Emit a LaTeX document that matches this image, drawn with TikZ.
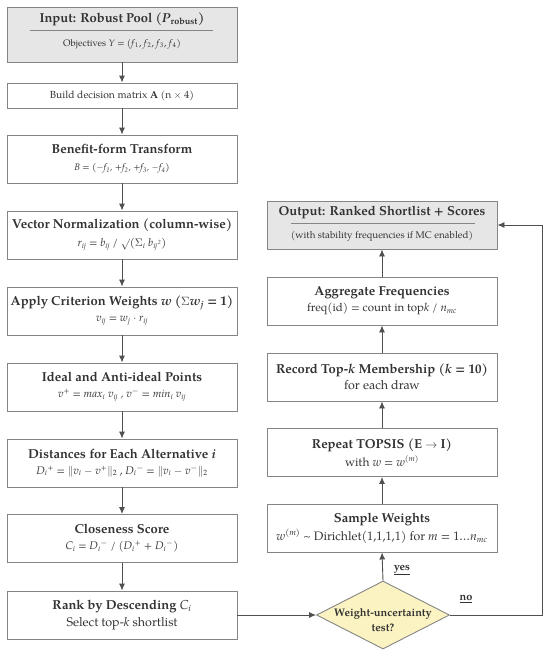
\documentclass[tikz,border=0pt]{standalone}
\usepackage{fontspec}
\setmainfont{TeX Gyre Pagella}
\usetikzlibrary{arrows.meta,shapes.geometric,calc}
\definecolor{txt}{HTML}{333333}
\definecolor{bord}{HTML}{858585}
\definecolor{arr}{HTML}{505050}
\definecolor{graybox}{HTML}{E6E6E6}
\definecolor{yel}{HTML}{FBF3C1}
\newcommand\hd[1]{{\fontsize{13}{15}\selectfont\bfseries #1}}
\newcommand\fm[1]{{\fontsize{11}{13}\selectfont #1}}
\newcommand\sm[1]{{\fontsize{9.5}{12}\selectfont #1}}
\begin{document}
\begin{tikzpicture}[x=1pt,y=-1pt,
  box/.style={draw=bord, line width=0.9pt, fill=white, minimum width=230pt,
    minimum height=48pt, inner sep=0pt, align=center, text=txt},
  gbox/.style={box, fill=graybox},
  lbl/.style={inner sep=0pt, text=txt, align=center},
  sep/.style={draw=bord, line width=0.7pt},
  flow/.style={draw=arr, line width=0.9pt, -{Latex[length=7pt,width=6pt]}},
  dec/.style={diamond, draw=bord, line width=0.9pt, fill=yel, minimum width=133pt,
    minimum height=68pt, inner sep=0pt}
]
\useasboundingbox[fill=white] (0,0) rectangle (550,653);

% ---- left column ----
\node[gbox, minimum height=55pt] (B1) at (122,34.5) {};
\node[lbl] (B1t) at (122,19) {\hd{Input: Robust Pool (\textit{P}\textsubscript{robust})}};
\node[lbl] (B1s) at (122,44) {\sm{Objectives \textit{Y} = (\textit{f}\textsubscript{1}, \textit{f}\textsubscript{2}, \textit{f}\textsubscript{3}, \textit{f}\textsubscript{4})}};
\draw[sep] ([xshift=23pt]B1.west |- 0,30) -- ([xshift=-24pt]B1.east |- 0,30);

\node[box, minimum height=25pt] (B2) at (122,95.5) {{\fontsize{10.3}{12}\selectfont Build decision matrix \textbf{A} (n $\times$ 4)}};
\node[box] (B3) at (122,159) {\hd{Benefit-form Transform}\\[5pt]\sm{\itshape B = ($-$f\textsubscript{1}, +f\textsubscript{2}, +f\textsubscript{3}, $-$f\textsubscript{4})}};
\node[box] (B4) at (122,235) {\hd{Vector Normalization (column-wise)}\\[6pt]\fm{\itshape r\textsubscript{ij} = b\textsubscript{ij} / $\surd$(\upshape$\Sigma$\itshape\textsubscript{i} b\textsubscript{ij}{\fontsize{8}{9}\selectfont\textsuperscript{2}})}};
\node[box] (B5) at (122,311) {\hd{Apply Criterion Weights \textit{w} ($\Sigma$\textit{w\textsubscript{j}} = 1)}\\[4pt]\fm{\itshape v\textsubscript{ij} = w\textsubscript{j} $\cdot$ r\textsubscript{ij}}};
\node[box] (B6) at (122,387) {\hd{Ideal and Anti-ideal Points}\\[4pt]\fm{\itshape v\textsuperscript{+} = max\textsubscript{i} v\textsubscript{ij} , v\textsuperscript{$-$} = min\textsubscript{i} v\textsubscript{ij}}};
\node[box] (B7) at (122,463) {\hd{Distances for Each Alternative \textit{i}}\\[4pt]\fm{\itshape D\textsubscript{i}\textsuperscript{+} = \upshape$\|$\itshape v\textsubscript{i} $-$ v\textsuperscript{+}\upshape$\|$\textsubscript{2} , \itshape D\textsubscript{i}\textsuperscript{$-$} = \upshape$\|$\itshape v\textsubscript{i} $-$ v\textsuperscript{$-$}\upshape$\|$\textsubscript{2}}};
\node[box] (B8) at (122,538.5) {\hd{Closeness Score}\\[4pt]\fm{\itshape C\textsubscript{i} = D\textsubscript{i}\textsuperscript{$-$} / (D\textsubscript{i}\textsuperscript{+} + D\textsubscript{i}\textsuperscript{$-$})}};
\node[box] (B9) at (122,615) {\hd{Rank by Descending {\mdseries\itshape C\textsubscript{i}}}\\[3pt]{\fontsize{12.5}{14}\selectfont Select top-\textit{k} shortlist}};

% ---- right column ----
\node[gbox] (O) at (382,225) {};
\node[lbl] (Ot) at (382,212.5) {\hd{Output: Ranked Shortlist + Scores}};
\node[lbl] (Os) at (382,236) {{\fontsize{9.8}{11}\selectfont (with stability frequencies if MC enabled)}};
\draw[sep] ([xshift=24pt]O.west |- 0,223) -- ([xshift=-22pt]O.east |- 0,223);

\node[box] (A) at (382,301) {\hd{Aggregate Frequencies}\\[3pt]{\fontsize{11.5}{14}\selectfont freq(id) = count in top\textit{k} / \textit{n\textsubscript{mc}}}};
\node[box] (R) at (382,377) {\hd{Record Top-\textit{k} Membership (\textit{k} = 10)}\\[3pt]{\fontsize{12.5}{14}\selectfont for each draw}};
\node[box] (T) at (382,452.5) {\hd{Repeat TOPSIS (E $\rightarrow$ I)}\\[3pt]{\fontsize{12}{14}\selectfont with \textit{w} = \textit{w}\textsuperscript{(\textit{m})}}};
\node[box] (S) at (382,528) {\hd{Sample Weights}\\[3pt]{\fontsize{12.3}{14}\selectfont \textit{w}\textsuperscript{(\textit{m})} \textasciitilde{} Dirichlet(1,1,1,1) for \textit{m} = 1…\textit{n\textsubscript{mc}}}};
\node[dec] (D) at (383,615) {};
\node[lbl, font=\fontsize{11}{15}\selectfont\bfseries] (Dt) at (383,620) {Weight-uncertainty\\test?};

\node[lbl] (yes) at (402,570) {{\fontsize{11}{12}\selectfont\bfseries \underline{yes}}};
\node[lbl] (no) at (466,599) {{\fontsize{11}{12}\selectfont\bfseries \underline{no}}};

% ---- connectors ----
\draw[flow] (B1) -- (B2);
\draw[flow] (B2) -- (B3);
\draw[flow] (B3) -- (B4);
\draw[flow] (B4) -- (B5);
\draw[flow] (B5) -- (B6);
\draw[flow] (B6) -- (B7);
\draw[flow] (B7) -- (B8);
\draw[flow] (B8) -- (B9);
\draw[flow] (B9.east) -- (D.west);
\draw[flow] (D.north) -- (S.south);
\draw[flow] (S) -- (T);
\draw[flow] (T) -- (R);
\draw[flow] (R) -- (A);
\draw[flow] (A) -- (O);
\coordinate (c1) at (542,615);
\coordinate (c2) at (542,225);
\draw[flow] (D.east) -- (c1) -- (c2) -- (O.east);
\end{tikzpicture}
\end{document}
